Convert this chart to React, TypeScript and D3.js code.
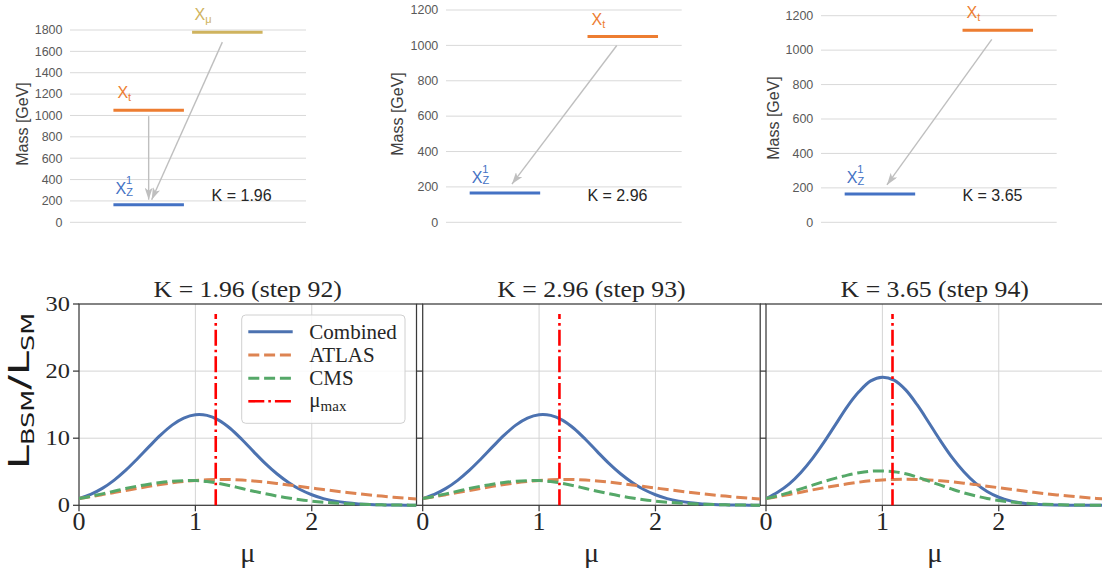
import React from "react";
import * as d3 from "d3";

// ---------------- bottom row data ----------------
const MU = [0, 0.1, 0.2, 0.3, 0.4, 0.5, 0.6, 0.7, 0.8, 0.9, 1.0, 1.1, 1.2, 1.3, 1.4, 1.5, 1.6, 1.7, 1.8, 1.9, 2.0, 2.1, 2.2, 2.3, 2.4, 2.5, 2.6, 2.7, 2.8, 2.9];

const COMBINED_92 = [1.0, 1.62, 2.52, 3.72, 5.2, 6.9, 8.7, 10.45, 11.95, 13.0, 13.5, 13.4, 12.7, 11.45, 9.8, 8.0, 6.25, 4.7, 3.4, 2.35, 1.57, 1.0, 0.62, 0.37, 0.21, 0.12, 0.07, 0.04, 0.02, 0.01];
const ATLAS_92 = [1.0, 1.29, 1.59, 1.9, 2.21, 2.52, 2.82, 3.1, 3.35, 3.55, 3.71, 3.81, 3.86, 3.84, 3.76, 3.63, 3.46, 3.26, 3.04, 2.81, 2.58, 2.35, 2.13, 1.92, 1.72, 1.54, 1.37, 1.21, 1.07, 0.94];
const CMS_92 = [1.0, 1.33, 1.7, 2.1, 2.5, 2.85, 3.15, 3.4, 3.58, 3.68, 3.68, 3.55, 3.28, 2.92, 2.5, 2.1, 1.72, 1.38, 1.08, 0.83, 0.63, 0.47, 0.34, 0.24, 0.17, 0.11, 0.07, 0.05, 0.03, 0.02];

const COMBINED_93 = [1.0, 1.62, 2.52, 3.72, 5.2, 6.9, 8.7, 10.45, 11.95, 13.0, 13.5, 13.4, 12.7, 11.45, 9.8, 8.0, 6.25, 4.7, 3.4, 2.35, 1.57, 1.0, 0.62, 0.37, 0.21, 0.12, 0.07, 0.04, 0.02, 0.01];
const ATLAS_93 = [1.0, 1.29, 1.59, 1.9, 2.21, 2.52, 2.82, 3.1, 3.35, 3.55, 3.71, 3.81, 3.86, 3.84, 3.76, 3.63, 3.46, 3.26, 3.04, 2.81, 2.58, 2.35, 2.13, 1.92, 1.72, 1.54, 1.37, 1.21, 1.07, 0.94];
const CMS_93 = [1.0, 1.33, 1.7, 2.1, 2.5, 2.85, 3.15, 3.4, 3.58, 3.68, 3.68, 3.55, 3.28, 2.92, 2.5, 2.1, 1.72, 1.38, 1.08, 0.83, 0.63, 0.47, 0.34, 0.24, 0.17, 0.11, 0.07, 0.05, 0.03, 0.02];

const COMBINED_94 = [1.0, 1.95, 3.2, 4.9, 7.0, 9.45, 12.1, 14.75, 16.95, 18.55, 19.1, 18.65, 17.2, 14.95, 12.3, 9.6, 7.1, 5.0, 3.3, 2.05, 1.2, 0.66, 0.35, 0.17, 0.08, 0.04, 0.02, 0.01, 0.01, 0.0];
const ATLAS_94 = [1.0, 1.3, 1.62, 1.95, 2.3, 2.62, 2.92, 3.2, 3.45, 3.65, 3.78, 3.86, 3.88, 3.85, 3.77, 3.65, 3.49, 3.3, 3.08, 2.85, 2.62, 2.39, 2.16, 1.94, 1.74, 1.55, 1.38, 1.22, 1.08, 0.95];
const CMS_94 = [1.0, 1.4, 1.9, 2.45, 3.0, 3.55, 4.05, 4.5, 4.85, 5.08, 5.12, 5.0, 4.7, 4.2, 3.6, 3.0, 2.4, 1.85, 1.4, 1.02, 0.72, 0.5, 0.34, 0.22, 0.14, 0.09, 0.06, 0.04, 0.02, 0.01];

const STEPS = [92, 93, 94];
const K_VALUES = ["1.96", "2.96", "3.65"];
const MU_MAX = [1.175, 1.175, 1.087];
const COMBINED = [COMBINED_92, COMBINED_93, COMBINED_94];
const ATLAS = [ATLAS_92, ATLAS_93, ATLAS_94];
const CMS = [CMS_92, CMS_93, CMS_94];
const X_TICKS = [0, 1, 2];
const Y_TICKS = [0, 10, 20, 30];
const LEGEND_LABELS = ["Combined", "ATLAS", "CMS"];

// ---------------- top row data ----------------
const M_XZ1 = [165, 165, 165];
const M_XT = [1050, 1050, 1115];
const M_XMU = [1780];
const TOP_YMAX = [1800, 1200, 1200];
const TOP_TICKS_A = [0, 200, 400, 600, 800, 1000, 1200, 1400, 1600, 1800];
const TOP_TICKS_BC = [0, 200, 400, 600, 800, 1000, 1200];

// ---------------- layout & style ----------------
const W = 1102;
const H = 577;
const PANEL_LEFTS = [79, 422.7, 766];
const PANEL_W = 337.5;
const PLOT_TOP = 304;
const PLOT_BOTTOM = 505.3;
const C_BLUE = "#4c72b0";
const C_ORANGE = "#dd8452";
const C_GREEN = "#55a868";
const C_RED = "#ff0000";
const SERIF = "'Liberation Serif', 'Times New Roman', serif";
const SANS = "'Liberation Sans', Arial, sans-serif";

const TOP_LAYOUT = [
  { gx0: 70, gx1: 306, yTop: 30, labelRight: 62.5, massX: 28.3, massY: 124, pad: 1, ticks: TOP_TICKS_A },
  { gx0: 446, gx1: 681.7, yTop: 10, labelRight: 438.3, massX: 403.3, massY: 114, pad: 0.5, ticks: TOP_TICKS_BC },
  { gx0: 821, gx1: 1056.7, yTop: 15.7, labelRight: 813.3, massX: 779.3, massY: 118, pad: 0.5, ticks: TOP_TICKS_BC },
];
const TOP_Y0 = 222.3;
const TB_BLUE = "#4472c4";
const TB_ORANGE = "#ed7d31";
const TB_GOLD = "#cfb35e";
const BAR_HALF = 35.25;

function TopPanel({ i }: { i: number }) {
  const L = TOP_LAYOUT[i];
  const y = d3.scaleLinear().domain([0, TOP_YMAX[i]]).range([TOP_Y0, L.yTop]);
  const x = d3.scalePoint<string>().domain(["a", "b"]).range([L.gx0, L.gx1]).padding(L.pad);
  const colXt = i === 0 ? "a" : "b";
  const xz = x("a")!;
  const xt = x(colXt)!;
  const yz = y(M_XZ1[i]);
  const yt = y(M_XT[i]);
  const arrows: { x1: number; y1: number; x2: number; y2: number }[] = [];
  if (i === 0) {
    arrows.push({ x1: xt, y1: yt + 6, x2: xz, y2: yz - 5 });
    const xm = x("b")!;
    const ym = y(M_XMU[0]);
    arrows.push({ x1: xm - 5, y1: ym + 10, x2: xz + 3, y2: yz - 5 });
  } else {
    arrows.push({ x1: xt - 6, y1: yt + 9, x2: xz + 7, y2: yz - 9 });
  }
  return (
    <g>
      {L.ticks.map((t) => (
        <g key={t}>
          <line x1={L.gx0} x2={L.gx1} y1={y(t)} y2={y(t)} stroke="#d9d9d9" strokeWidth={1} />
          <text x={L.labelRight} y={y(t) + 4.3} textAnchor="end" fontFamily={SANS} fontSize={12.5} fill="#595959">
            {t}
          </text>
        </g>
      ))}
      <text
        transform={`translate(${L.massX},${L.massY}) rotate(-90)`}
        textAnchor="middle"
        fontFamily={SANS}
        fontSize={16}
        fill="#404040"
      >
        Mass [GeV]
      </text>
      <line x1={xz - BAR_HALF} x2={xz + BAR_HALF} y1={yz} y2={yz} stroke={TB_BLUE} strokeWidth={3} />
      <line x1={xt - BAR_HALF} x2={xt + BAR_HALF} y1={yt} y2={yt} stroke={TB_ORANGE} strokeWidth={3} />
      {i === 0 && (
        <line
          x1={x("b")! - BAR_HALF}
          x2={x("b")! + BAR_HALF}
          y1={y(M_XMU[0])}
          y2={y(M_XMU[0])}
          stroke={TB_GOLD}
          strokeWidth={3}
        />
      )}
      {arrows.map((a, k) => (
        <line key={k} x1={a.x1} y1={a.y1} x2={a.x2} y2={a.y2} stroke="#bfbfbf" strokeWidth={1.4} markerEnd="url(#arrowhead)" />
      ))}
      <text x={xz - BAR_HALF + 2} y={yz - 10.5} fontFamily={SANS} fontSize={16} fill={TB_BLUE}>
        X
        <tspan fontSize={11} dy={-10}>1</tspan>
        <tspan fontSize={11} x={xz - BAR_HALF + 2 + 10.8} dy={11.5}>Z</tspan>
      </text>
      <text x={xt - BAR_HALF + 4} y={yt - 12} fontFamily={SANS} fontSize={16} fill={TB_ORANGE}>
        X<tspan fontSize={11} dy={3}>t</tspan>
      </text>
      {i === 0 && (
        <text x={x("b")! - BAR_HALF + 2.5} y={y(M_XMU[0]) - 12.4} fontFamily={SANS} fontSize={16} fill={TB_GOLD}>
          X<tspan fontSize={11} dy={3}>μ</tspan>
        </text>
      )}
      <text x={L.gx0 + 0.6 * (L.gx1 - L.gx0)} y={201} fontFamily={SANS} fontSize={16} fill="#262626">
        K = {K_VALUES[i]}
      </text>
    </g>
  );
}

function BottomPanel({ i }: { i: number }) {
  const left = PANEL_LEFTS[i];
  const x = d3.scaleLinear().domain([0, 2.9]).range([left, left + PANEL_W]);
  const y = d3.scaleLinear().domain([0, 30]).range([PLOT_BOTTOM, PLOT_TOP]);
  const line = d3
    .line<number>()
    .x((_, k) => x(MU[k]))
    .y((d) => y(d))
    .curve(d3.curveCatmullRom.alpha(0.5));
  const cx = left + PANEL_W / 2;
  return (
    <g>
      <defs>
        <clipPath id={`clip${i}`}>
          <rect x={left} y={PLOT_TOP - 2} width={PANEL_W} height={PLOT_BOTTOM - PLOT_TOP + 4} />
        </clipPath>
      </defs>
      {[1, 2].map((t) => (
        <line key={"gx" + t} x1={x(t)} x2={x(t)} y1={PLOT_TOP} y2={PLOT_BOTTOM} stroke="#d4d4d4" strokeWidth={1} />
      ))}
      {[10, 20].map((t) => (
        <line key={"gy" + t} x1={left} x2={left + PANEL_W} y1={y(t)} y2={y(t)} stroke="#d4d4d4" strokeWidth={1} />
      ))}
      <rect x={left} y={PLOT_TOP} width={PANEL_W} height={PLOT_BOTTOM - PLOT_TOP} fill="none" stroke="#3a3a3a" strokeWidth={1.25} />
      {Y_TICKS.map((t) => (
        <line key={"ty" + t} x1={left - 6} x2={left} y1={y(t)} y2={y(t)} stroke="#3a3a3a" strokeWidth={1.25} />
      ))}
      {X_TICKS.map((t) => (
        <line key={"tx" + t} x1={x(t)} x2={x(t)} y1={PLOT_BOTTOM} y2={PLOT_BOTTOM + 6} stroke="#3a3a3a" strokeWidth={1.25} />
      ))}
      <g clipPath={`url(#clip${i})`}>
        <path d={line(COMBINED[i]) || ""} fill="none" stroke={C_BLUE} strokeWidth={3} />
        <path d={line(ATLAS[i]) || ""} fill="none" stroke={C_ORANGE} strokeWidth={3} strokeDasharray="11,4.8" />
        <path d={line(CMS[i]) || ""} fill="none" stroke={C_GREEN} strokeWidth={3} strokeDasharray="11,4.8" />
      </g>
      <line
        x1={x(MU_MAX[i])}
        x2={x(MU_MAX[i])}
        y1={y(0)}
        y2={y(28.5)}
        stroke={C_RED}
        strokeWidth={2.6}
        strokeDasharray="16,4,2.6,4"
      />
      {X_TICKS.map((t) => (
        <text key={"lx" + t} x={x(t)} y={530} textAnchor="middle" fontFamily={SERIF} fontSize={26} fill="#262626">
          {t}
        </text>
      ))}
      {i === 0 &&
        Y_TICKS.map((t) => (
          <text
            key={"ly" + t}
            transform={`translate(${left - 9},${y(t) + 6.7}) scale(1.22,1)`}
            textAnchor="end"
            fontFamily={SERIF}
            fontSize={20}
            fill="#262626"
          >
            {t}
          </text>
        ))}
      <text transform={`translate(${cx},297) scale(1.12,1)`} textAnchor="middle" fontFamily={SERIF} fontSize={23} fill="#262626">
        K = {K_VALUES[i]} (step {STEPS[i]})
      </text>
      <text x={cx} y={562} textAnchor="middle" fontFamily={SERIF} fontSize={28} fill="#262626">
        μ
      </text>
    </g>
  );
}

function Legend() {
  const x0 = 241.7;
  const y0 = 315;
  const rows = [331.7, 355, 378.3, 401.3];
  return (
    <g>
      <rect x={x0} y={y0} width={163.3} height={108.3} rx={4} fill="#ffffff" fillOpacity={0.85} stroke="#d0d0d0" strokeWidth={1} />
      <line x1={248.3} x2={292.7} y1={rows[0]} y2={rows[0]} stroke={C_BLUE} strokeWidth={3} />
      <line x1={248.3} x2={292.7} y1={rows[1]} y2={rows[1]} stroke={C_ORANGE} strokeWidth={3} strokeDasharray="11,4.8" />
      <line x1={248.3} x2={292.7} y1={rows[2]} y2={rows[2]} stroke={C_GREEN} strokeWidth={3} strokeDasharray="11,4.8" />
      <line x1={248.3} x2={292.7} y1={rows[3]} y2={rows[3]} stroke={C_RED} strokeWidth={2.6} strokeDasharray="16,4,2.6,4" />
      {LEGEND_LABELS.map((lab, k) => (
        <text key={lab} x={309.3} y={rows[k] + 7} fontFamily={SERIF} fontSize={21} fill="#262626">
          {lab}
        </text>
      ))}
      <text x={309.3} y={rows[3] + 6} fontFamily={SERIF} fontSize={21} fill="#262626">
        μ<tspan fontSize={15} dy={4}>max</tspan>
      </text>
    </g>
  );
}

export default function App() {
  return (
    <svg
      width={W}
      height={H}
      viewBox={`0 0 ${W} ${H}`}
      style={{ position: "absolute", left: 0, top: 0, background: "#ffffff" }}
    >
      <defs>
        <marker id="arrowhead" viewBox="0 0 12 8" refX={12} refY={4} markerWidth={12} markerHeight={8} orient="auto" markerUnits="userSpaceOnUse">
          <path d="M0,0 L12,4 L0,8 L3,4 z" fill="#bfbfbf" />
        </marker>
      </defs>
      <rect x={0} y={0} width={W} height={H} fill="#ffffff" />
      {[0, 1, 2].map((i) => (
        <TopPanel key={"t" + i} i={i} />
      ))}
      {[0, 1, 2].map((i) => (
        <BottomPanel key={"b" + i} i={i} />
      ))}
      <Legend />
      <text
        transform={`translate(29,391) rotate(-90) scale(1.5,1)`}
        textAnchor="middle"
        fontFamily="'DejaVu Sans', sans-serif"
        fontSize={29}
        fill="#1a1a1a"
      >
        L<tspan fontSize={17} dy={5}>BSM</tspan>
        <tspan fontSize={29} dy={-5}>/L</tspan>
        <tspan fontSize={17} dy={5}>SM</tspan>
      </text>
    </svg>
  );
}
